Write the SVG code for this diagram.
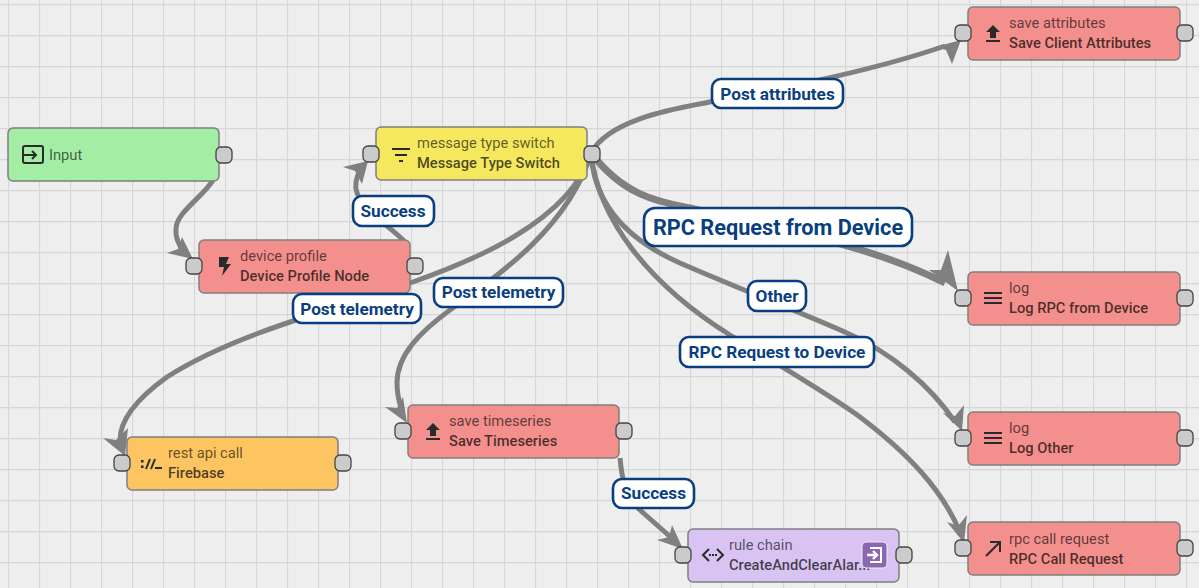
<svg xmlns="http://www.w3.org/2000/svg" width="1199" height="588" viewBox="0 0 1199 588">
<style>
.n{stroke:#7f7f7f;stroke-width:1.5}
.p{fill:#cbcbcb;stroke:#444;stroke-width:1.3}
text{font-family:Roboto,"Liberation Sans",sans-serif}
.t{font-size:14.7px;fill:#000;fill-opacity:.62}
.b{font-size:14.7px;fill:#000;fill-opacity:.7;font-weight:500}
.c{fill:none;stroke:#808080;stroke-width:5}
.a{fill:#808080}
.lb{fill:#fff;stroke:#0a3f7f;stroke-width:2.6}
.lt{font-size:17.2px;font-weight:700;fill:#0a3f7f;text-anchor:middle}
.i{fill:none;stroke:#2a2a2a;stroke-width:2}
.f{fill:#2a2a2a}
</style>
<defs>
<pattern id="g" width="31" height="31" patternUnits="userSpaceOnUse" x="8" y="4">
<path d="M0.5 0V31M0 0.5H31" fill="none" stroke="#d6d6d6" stroke-width="1.3"/>
</pattern>
</defs>
<rect width="1199" height="588" fill="#eeeeee"/>
<rect width="1199" height="588" fill="url(#g)"/>
<g id="connectors">
<path class="c" d="M213 180C204 196 177 212 176 228C175 238 179 246 185 253"/>
<polygon class="a" points="193,259 167,253 178,249 182,237"/>
<path class="c" d="M404 241C388 224 352 205 356 182C357 176 359 172 361 168"/>
<polygon class="a" points="368,161 343,167 355,171 362,184"/>
<path class="c" d="M410 283C470 262 570 222 591 153"/>
<path class="c" d="M591 153C610 118 680 108 710 102C760 92 860 75 945 46"/>
<polygon class="a" points="961,40 935,47 946,50 952,64"/>
<path class="c" d="M591 153C625 197 660 202 690 208C790 232 870 245 945 283" style="stroke-width:7"/>
<polygon class="a" points="958,291 948,250 941,270 929,270"/>
<path class="c" d="M591 153C594 205 628 240 680 263C730 285 800 312 847 333C890 352 930 385 955 422"/>
<polygon class="a" points="962,431 943,413 955,416 964,405"/>
<path class="c" d="M591 153C598 220 650 285 730 335C790 372 830 395 860 417C910 455 942 490 960 532"/>
<polygon class="a" points="964,543 947,522 958,526 967,515"/>
<path class="c" d="M591 153C570 225 500 275 450 310C420 332 397 355 397 383C397 392 398 398 401 408"/>
<polygon class="a" points="407,423 385,407 397,408 403,397"/>
<path class="c" d="M360 300C293 320 220 343 167 377C135 400 120 420 120 440"/>
<polygon class="a" points="125,456 103,438 116,440 128,428"/>
<path class="c" d="M620 458C622 480 625 495 640 510L675 541"/>
<polygon class="a" points="683,549 657,540 669,537 672,525"/>
</g>
<g id="input">
<rect class="n" x="8" y="128" width="211" height="53" rx="5" fill="#a3eda5"/>
<rect class="i" x="23" y="146" width="20" height="17" rx="2"/><path class="i" d="M23 155H36M32 151l4 4-4 4"/>
<text class="t" x="49" y="160">Input</text>
<rect class="p" x="216" y="147" width="16" height="16" rx="5"/>
</g>
<g id="device-profile">
<rect class="n" x="199" y="240" width="211" height="53" rx="5" fill="#f3908d"/>
<path class="f" d="M219 257h10l-3 7h5l-9 12 2-9h-5z"/>
<text class="t" x="240" y="261">device profile</text><text class="b" x="240" y="281">Device Profile Node</text>
<rect class="p" x="186" y="258" width="16" height="16" rx="5"/><rect class="p" x="407" y="258" width="16" height="16" rx="5"/>
</g>
<g id="message-type-switch">
<rect class="n" x="376" y="127" width="211" height="53" rx="5" fill="#f5e85f"/>
<path class="i" d="M392 149H410M395 155H407"/><path class="i" d="M399 161H403"/>
<text class="t" x="417" y="148">message type switch</text><text class="b" x="417" y="168">Message Type Switch</text>
<rect class="p" x="363" y="146" width="16" height="16" rx="5"/><rect class="p" x="584" y="146" width="16" height="16" rx="5"/>
</g>
<g id="save-attributes">
<rect class="n" x="968" y="7" width="212" height="53" rx="5" fill="#f3908d"/>
<path class="f" d="M993 25l7 7h-4v6h-6v-6h-4zM986 40h14v2h-14z"/>
<text class="t" x="1009" y="28">save attributes</text><text class="b" x="1009" y="48">Save Client Attributes</text>
<rect class="p" x="955" y="25" width="16" height="16" rx="5"/><rect class="p" x="1177" y="25" width="16" height="16" rx="5"/>
</g>
<g id="log-rpc">
<rect class="n" x="968" y="272" width="212" height="53" rx="5" fill="#f3908d"/>
<path class="i" d="M984 293H1002M984 298H1002M984 303H1002"/>
<text class="t" x="1009" y="293">log</text><text class="b" x="1009" y="313">Log RPC from Device</text>
<rect class="p" x="955" y="290" width="16" height="16" rx="5"/><rect class="p" x="1177" y="290" width="16" height="16" rx="5"/>
</g>
<g id="log-other">
<rect class="n" x="968" y="412" width="212" height="53" rx="5" fill="#f3908d"/>
<path class="i" d="M984 433H1002M984 438H1002M984 443H1002"/>
<text class="t" x="1009" y="433">log</text><text class="b" x="1009" y="453">Log Other</text>
<rect class="p" x="955" y="430" width="16" height="16" rx="5"/><rect class="p" x="1177" y="430" width="16" height="16" rx="5"/>
</g>
<g id="rpc-call-request">
<rect class="n" x="968" y="522" width="212" height="53" rx="5" fill="#f3908d"/>
<path class="i" d="M986 556L1000 542M990 542H1000V552"/>
<text class="t" x="1009" y="544">rpc call request</text><text class="b" x="1009" y="564">RPC Call Request</text>
<rect class="p" x="955" y="540" width="16" height="16" rx="5"/><rect class="p" x="1177" y="540" width="16" height="16" rx="5"/>
</g>
<g id="save-timeseries">
<rect class="n" x="408" y="405" width="211" height="53" rx="5" fill="#f3908d"/>
<path class="f" d="M433 423l7 7h-4v6h-6v-6h-4zM426 438h14v2h-14z"/>
<text class="t" x="449" y="426">save timeseries</text><text class="b" x="449" y="446">Save Timeseries</text>
<rect class="p" x="395" y="423" width="16" height="16" rx="5"/><rect class="p" x="616" y="423" width="16" height="16" rx="5"/>
</g>
<g id="rest-api-call">
<rect class="n" x="127" y="437" width="211" height="53" rx="5" fill="#fdc562"/>
<path class="i" d="M146 469L150 459M151 469L155 459" stroke-width="2.6"/><path class="i" d="M155 468H162" stroke-width="2.4"/><path class="f" d="M141 460h2.500v2.500h-2.500zM141 465.500h2.500v2.500h-2.500z"/>
<text class="t" x="168" y="458">rest api call</text><text class="b" x="168" y="478">Firebase</text>
<rect class="p" x="114" y="455" width="16" height="16" rx="5"/><rect class="p" x="335" y="455" width="16" height="16" rx="5"/>
</g>
<g id="rule-chain">
<rect class="n" x="688" y="529" width="211" height="53" rx="5" fill="#d8c3f2"/>
<path class="i" d="M709 549l-6 6 6 6M717 549l6 6-6 6" stroke-width="1.8"/><path class="i" d="M709 555h8" stroke-dasharray="2 1"/>
<text class="t" x="729" y="550">rule chain</text><text class="b" x="729" y="570">CreateAndClearAlar...</text>
<rect x="862" y="542" width="25" height="26" rx="4" fill="#8b67b0" stroke="#efe8f6"/>
<path d="M867 555h10M873 551l4 4-4 4" fill="none" stroke="#fff" stroke-width="2.400"/><path d="M870 548h11v14h-11" fill="none" stroke="#fff" stroke-width="2"/>
<rect class="p" x="675" y="547" width="16" height="16" rx="5"/><rect class="p" x="896" y="547" width="16" height="16" rx="5"/>
</g>
<g id="labels">
<rect class="lb" x="712" y="79" width="131" height="29" rx="9"/><text class="lt" x="777.500" y="99.500">Post attributes</text>
<rect class="lb" x="644" y="208" width="268" height="38" rx="11"/><text class="lt" x="778" y="234.500" style="font-size:21.700px">RPC Request from Device</text>
<rect class="lb" x="353" y="196" width="81" height="30" rx="9"/><text class="lt" x="393" y="217">Success</text>
<rect class="lb" x="293" y="294" width="128" height="29" rx="9"/><text class="lt" x="357" y="314.500">Post telemetry</text>
<rect class="lb" x="434" y="278" width="129" height="29" rx="9"/><text class="lt" x="498.500" y="298">Post telemetry</text>
<rect class="lb" x="748" y="281" width="58" height="30" rx="9"/><text class="lt" x="777" y="301.500">Other</text>
<rect class="lb" x="680" y="337" width="194" height="30" rx="9"/><text class="lt" x="777" y="358">RPC Request to Device</text>
<rect class="lb" x="613" y="479" width="81" height="29" rx="9"/><text class="lt" x="653.500" y="499">Success</text>
</g>
</svg>
